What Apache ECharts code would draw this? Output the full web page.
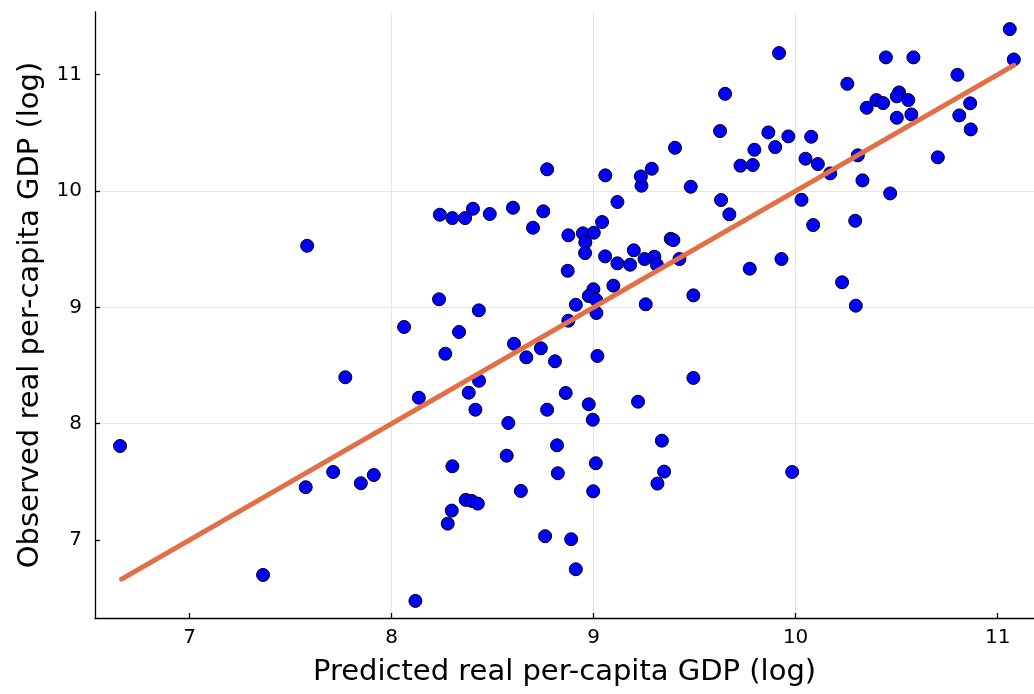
<!DOCTYPE html>
<html>
<head>
<meta charset="utf-8">
<script src="https://cdn.jsdelivr.net/npm/echarts@6/dist/echarts.min.js"></script>
<style>
  html, body { margin: 0; padding: 0; background: #ffffff; }
  #chart { width: 1034px; height: 694px; }
</style>
</head>
<body>
<div id="chart"></div>
<script>
// Predicted vs observed real per-capita GDP (log scale), one entry per country
const predicted = [
  6.656, 7.582, 7.364, 7.771, 7.575, 7.711, 7.848, 7.912, 8.062, 8.118,
  8.135, 8.239, 8.301, 8.364, 8.403, 8.486, 8.601, 8.751, 8.700, 8.875,
  8.947, 9.001, 8.959, 8.958, 9.042, 9.118, 9.058, 9.237, 9.234, 9.481,
  9.057, 9.118, 9.181, 9.199, 9.252, 9.301, 9.313, 9.382, 9.395, 9.425,
  8.872, 8.999, 8.976, 9.013, 8.912, 8.875, 9.014, 9.098, 9.258, 9.494,
  8.235, 8.432, 8.334, 8.266, 8.606, 8.667, 8.739, 8.809, 9.019, 8.433,
  8.382, 8.415, 8.862, 8.976, 8.996, 8.770, 8.578, 9.220, 9.494, 9.338,
  8.819, 8.570, 8.301, 9.011, 8.823, 9.349, 9.316, 8.640, 8.998, 8.367,
  8.397, 8.427, 8.298, 8.278, 8.760, 8.889, 8.912, 9.918, 9.651, 9.626,
  10.447, 10.583, 11.060, 11.080, 10.801, 10.256, 10.400, 10.433, 10.512, 10.501,
  10.558, 10.352, 10.501, 10.573, 10.864, 10.810, 10.867, 9.865, 9.964, 10.077,
  9.796, 9.899, 9.727, 9.788, 10.049, 10.110, 10.171, 10.308, 10.331, 10.704,
  10.468, 9.631, 9.672, 10.029, 10.087, 10.295, 9.773, 9.930, 10.230, 10.298,
  9.983, 8.770, 9.288, 9.403
];
const observed = [
  7.808, 9.529, 6.700, 8.399, 7.454, 7.585, 7.488, 7.559, 8.831, 6.477,
  8.223, 9.796, 9.767, 9.767, 9.847, 9.802, 9.856, 9.825, 9.684, 9.619,
  9.636, 9.641, 9.558, 9.466, 9.733, 9.905, 10.134, 10.045, 10.125, 10.036,
  9.438, 9.378, 9.366, 9.490, 9.415, 9.435, 9.366, 9.589, 9.578, 9.415,
  9.314, 9.155, 9.097, 9.063, 9.022, 8.885, 8.951, 9.186, 9.026, 9.103,
  9.069, 8.974, 8.788, 8.601, 8.687, 8.570, 8.648, 8.536, 8.582, 8.369,
  8.266, 8.120, 8.264, 8.167, 8.034, 8.120, 8.006, 8.189, 8.393, 7.854,
  7.814, 7.725, 7.634, 7.660, 7.574, 7.588, 7.485, 7.422, 7.419, 7.345,
  7.336, 7.313, 7.253, 7.141, 7.033, 7.007, 6.749, 11.185, 10.835, 10.515,
  11.148, 11.148, 11.391, 11.130, 10.998, 10.921, 10.781, 10.755, 10.847, 10.813,
  10.781, 10.715, 10.629, 10.658, 10.753, 10.649, 10.529, 10.503, 10.469, 10.466,
  10.354, 10.377, 10.217, 10.223, 10.277, 10.231, 10.151, 10.306, 10.091, 10.289,
  9.979, 9.922, 9.799, 9.924, 9.707, 9.744, 9.332, 9.415, 9.215, 9.014,
  7.585, 10.186, 10.191, 10.371
];
// 45-degree reference line spanning the predicted range
const fitX = [6.664, 11.080];
const fitY = [6.664, 11.080];
// Axis ticks
const xTicks = [7, 8, 9, 10, 11];
const yTicks = [7, 8, 9, 10, 11];

const FONT = 'DejaVu Sans';
const points = predicted.map((x, i) => [x, observed[i]]);
const line = fitX.map((x, i) => [x, fitY[i]]);

function axisCommon(ticks, name, labelMargin) {
  return {
    type: 'value',
    name: name,
    nameLocation: 'middle',
    nameTextStyle: { fontFamily: FONT, fontSize: 29, color: '#000000' },
    axisLine: { show: true, onZero: false, lineStyle: { color: '#000000', width: 1.3 } },
    axisTick: { show: true, inside: true, length: 5, customValues: ticks,
                lineStyle: { color: '#000000', width: 1.3 } },
    axisLabel: { customValues: ticks, fontFamily: FONT, fontSize: 20, color: '#000000',
                 margin: labelMargin },
    splitLine: { show: true, showMinLine: false, showMaxLine: false,
                 lineStyle: { color: '#e6e6e6', width: 1 } }
  };
}

const chart = echarts.init(document.getElementById('chart'), null, { renderer: 'canvas' });
chart.setOption({
  backgroundColor: '#ffffff',
  animation: false,
  grid: { left: 95, right: 0, top: 12, bottom: 76, containLabel: false },
  xAxis: Object.assign(axisCommon(xTicks, 'Predicted real per-capita GDP (log)', 10), {
    min: 6.532, max: 11.18, nameGap: 40
  }),
  yAxis: Object.assign(axisCommon(yTicks, 'Observed real per-capita GDP (log)', 13), {
    min: 6.33, max: 11.538, nameGap: 50
  }),
  series: [
    {
      type: 'scatter',
      data: points,
      symbol: 'circle',
      symbolSize: 13,
      itemStyle: { color: '#0000ff', opacity: 1, borderColor: '#000000', borderWidth: 1 },
      z: 2
    },
    {
      type: 'line',
      data: line,
      symbol: 'none',
      lineStyle: { color: '#e26f46', width: 5, cap: 'round' },
      z: 3
    }
  ]
});
</script>
</body>
</html>
